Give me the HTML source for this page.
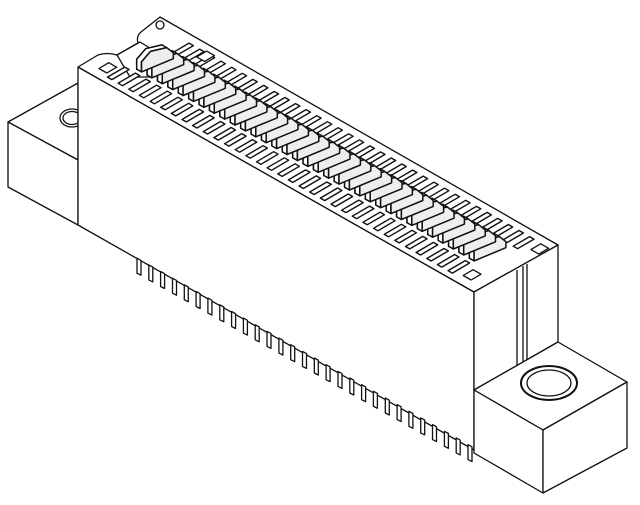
<!DOCTYPE html>
<html><head><meta charset="utf-8"><style>
html,body{margin:0;padding:0;background:#fff;width:640px;height:505px;overflow:hidden}
svg{display:block}
</style></head><body>
<svg id="s" width="640" height="505" viewBox="0 0 640 505" xmlns="http://www.w3.org/2000/svg" fill="none" stroke="#111" stroke-width="1.3" stroke-linejoin="round">
<polygon points="8,122 78,83 78,160" fill="#fff"/>
<polygon points="8,122 78,160 78,225 8,187" fill="#fff"/>
<ellipse cx="72" cy="118" rx="12" ry="9"/>
<ellipse cx="72" cy="118" rx="9" ry="6.5"/>
<polygon points="78,67 474,292 474,450 78,225" fill="#fff"/>
<path d="M78,67 L98,55 Q107,52 117,55 L138,43 Q136,36 141,32 L160,17 L558,245 L474,292 Z" fill="#fff"/>
<polygon points="474,292 558,245 558,342 474,390" fill="#fff"/>
<line x1="517" y1="270" x2="517" y2="366"/>
<line x1="523" y1="266" x2="523" y2="362"/>
<line x1="527" y1="264" x2="527" y2="360"/>
<polygon points="474,390 558,342 627,382 543,430" fill="#fff"/>
<polygon points="474,390 543,430 543,493 474,453" fill="#fff"/>
<polygon points="543,430 627,382 627,448 543,493" fill="#fff"/>
<ellipse cx="549" cy="383" rx="28" ry="17" stroke-width="2"/>
<ellipse cx="549" cy="383" rx="22" ry="13"/>
<circle cx="160" cy="25" r="4"/>
<g id="g"></g>
</svg>
<script>
var g=document.getElementById('g'),NS='http://www.w3.org/2000/svg';
function P(u,v,dy){return [78+u*396+v*82,67+u*225-v*48-(dy||0)];}
function poly(pts,attrs){var e=document.createElementNS(NS,'polygon');e.setAttribute('points',pts.map(function(p){return p[0].toFixed(1)+','+p[1].toFixed(1)}).join(' '));for(var k in attrs)e.setAttribute(k,attrs[k]);g.appendChild(e);}
poly([[117,55],[140,42],[153,50],[153,77],[130,77]],{fill:'#fff'});
var N=33;
for(var i=0;i<N;i++){
 var u=0.06+i*(0.86/(N-1));var w=0.011;
 poly([P(u,0.07),P(u+w,0.07),P(u+w,0.28),P(u,0.28)],{fill:'#fff','stroke-width':'1.4'});
 poly([P(u+0.03,0.72),P(u+0.03+w,0.72),P(u+0.03+w,0.92),P(u+0.03,0.92)],{fill:'#fff','stroke-width':'1.4'});
}
for(var i=N-1;i>=0;i--){
 var u=0.08+i*(0.84/(N-1));
 var a=P(u,0.33,0),b=P(u,0.33,10),c=P(u+0.004,0.42,17),d=P(u+0.012,0.58,15),e=P(u+0.012,0.66,6),f=P(u+0.012,0.66,0);
 poly([a,b,c,d,e,f],{fill:'#fff','stroke-width':'1.5'});
 var a2=P(u+0.012,0.33,0),b2=P(u+0.012,0.33,10),c2=P(u+0.016,0.42,17),d2=P(u+0.024,0.58,15),e2=P(u+0.024,0.66,6),f2=P(u+0.024,0.66,0);
 poly([a,b,c,d,d2,c2,b2,a2],{fill:'#fff','stroke-width':'1.5'});
 poly([a2,b2,c2,d2,e2,f2],{fill:'#eee','stroke-width':'1.5'});
}
[[0.03,0.17],[0.95,0.17],[0.13,0.88],[0.98,0.85]].forEach(function(q){var u=q[0],v=q[1];poly([P(u,v-0.06),P(u+0.02,v-0.06),P(u+0.02,v+0.06),P(u,v+0.06)],{fill:'#fff'});});
for(var j=0;j<29;j++){
 var x=137+j*(331/28),y=225+(x-78)*0.563;
 poly([[x,y],[x+4,y+2.2],[x+4,y+17],[x,y+15]],{fill:'#fff','stroke-width':'1.3'});
}
</script>
</body></html>
